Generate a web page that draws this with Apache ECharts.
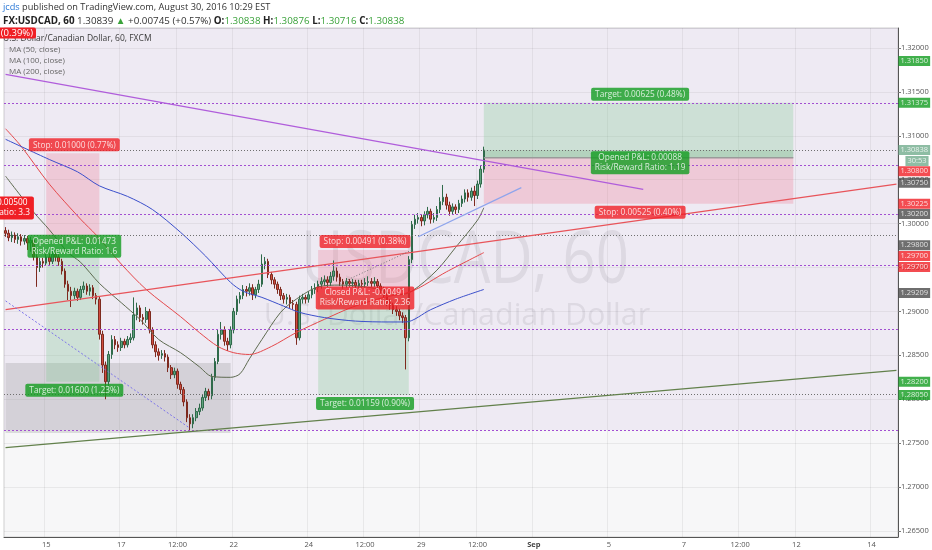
<!DOCTYPE html>
<html><head><meta charset="utf-8">
<script src="https://cdn.jsdelivr.net/npm/echarts@6/dist/echarts.min.js"></script>
<style>html,body{margin:0;padding:0;background:#fff}#c{width:932px;height:550px}</style>
</head><body><div id="c"></div>
<script>
// ---------------- DATA ----------------
// 2-hour candles [open, close, low, high], starting Thu Aug 11 22:00
const candles = [
[1.2992,1.2989,1.2985,1.2996],[1.2989,1.2984,1.2980,1.2993],[1.2984,1.2987,1.2979,1.2991],[1.2987,1.2982,1.2978,1.2990],
[1.2982,1.2985,1.2977,1.2989],[1.2985,1.2980,1.2975,1.2988],[1.2980,1.2983,1.2976,1.2987],[1.2983,1.2978,1.2970,1.2986],
[1.2978,1.2981,1.2968,1.2985],[1.2981,1.2962,1.2958,1.2984],[1.2962,1.2950,1.2928,1.2965],[1.2950,1.2957,1.2945,1.2961],
[1.2957,1.2955,1.2950,1.2961],[1.2955,1.2962,1.2952,1.2967],[1.2962,1.2957,1.2953,1.2966],[1.2957,1.2965,1.2954,1.2969],
[1.2965,1.2962,1.2957,1.2970],[1.2962,1.2957,1.2952,1.2965],[1.2957,1.2946,1.2942,1.2960],[1.2946,1.2931,1.2927,1.2949],
[1.2931,1.2923,1.2913,1.2935],[1.2923,1.2918,1.2905,1.2928],[1.2918,1.2923,1.2914,1.2927],[1.2923,1.2916,1.2912,1.2926],
[1.2916,1.2925,1.2913,1.2929],[1.2925,1.2929,1.2921,1.2934],[1.2929,1.2923,1.2919,1.2932],[1.2923,1.2927,1.2918,1.2931],
[1.2927,1.2918,1.2914,1.2930],[1.2918,1.2914,1.2908,1.2921],[1.2914,1.2874,1.2868,1.2917],[1.2874,1.2839,1.2830,1.2878],
[1.2839,1.2820,1.2800,1.2843],[1.2820,1.2851,1.2815,1.2855],[1.2851,1.2868,1.2846,1.2873],[1.2868,1.2862,1.2857,1.2872],
[1.2862,1.2859,1.2854,1.2866],[1.2859,1.2866,1.2855,1.2870],[1.2866,1.2862,1.2858,1.2869],[1.2862,1.2868,1.2859,1.2872],
[1.2868,1.2870,1.2864,1.2875],[1.2870,1.2896,1.2867,1.2916],[1.2896,1.2904,1.2890,1.2910],[1.2904,1.2893,1.2888,1.2907],
[1.2893,1.2891,1.2885,1.2897],[1.2891,1.2900,1.2887,1.2905],[1.2900,1.2879,1.2875,1.2903],[1.2879,1.2862,1.2858,1.2882],
[1.2862,1.2854,1.2848,1.2866],[1.2854,1.2850,1.2844,1.2858],[1.2850,1.2852,1.2846,1.2856],[1.2852,1.2848,1.2843,1.2856],
[1.2848,1.2836,1.2831,1.2851],[1.2836,1.2828,1.2823,1.2839],[1.2828,1.2832,1.2824,1.2836],[1.2832,1.2817,1.2812,1.2835],
[1.2817,1.2811,1.2806,1.2820],[1.2811,1.2797,1.2792,1.2814],[1.2797,1.2779,1.2774,1.2800],[1.2779,1.2772,1.2765,1.2783],
[1.2772,1.2779,1.2767,1.2783],[1.2779,1.2786,1.2775,1.2790],[1.2786,1.2790,1.2782,1.2795],[1.2790,1.2802,1.2787,1.2806],
[1.2802,1.2809,1.2798,1.2813],[1.2809,1.2804,1.2799,1.2812],[1.2804,1.2825,1.2800,1.2829],[1.2825,1.2843,1.2821,1.2847],
[1.2843,1.2874,1.2840,1.2880],[1.2874,1.2879,1.2868,1.2888],[1.2879,1.2866,1.2861,1.2883],[1.2866,1.2862,1.2855,1.2870],
[1.2862,1.2879,1.2858,1.2883],[1.2879,1.2900,1.2875,1.2904],[1.2900,1.2914,1.2896,1.2918],[1.2914,1.2918,1.2909,1.2922],
[1.2918,1.2925,1.2914,1.2930],[1.2925,1.2923,1.2917,1.2929],[1.2923,1.2927,1.2918,1.2932],[1.2927,1.2919,1.2913,1.2931],
[1.2919,1.2925,1.2915,1.2928],[1.2925,1.2931,1.2921,1.2936],[1.2931,1.2954,1.2928,1.2965],[1.2954,1.2957,1.2948,1.2962],
[1.2957,1.2942,1.2938,1.2960],[1.2942,1.2936,1.2931,1.2945],[1.2936,1.2931,1.2926,1.2939],[1.2931,1.2925,1.2920,1.2934],
[1.2925,1.2918,1.2913,1.2928],[1.2918,1.2914,1.2909,1.2921],[1.2914,1.2916,1.2908,1.2920],[1.2916,1.2909,1.2904,1.2919],
[1.2909,1.2908,1.2902,1.2913],[1.2908,1.2870,1.2862,1.2911],[1.2870,1.2914,1.2867,1.2918],[1.2914,1.2916,1.2909,1.2920],
[1.2916,1.2914,1.2909,1.2919],[1.2914,1.2919,1.2910,1.2923],[1.2919,1.2925,1.2915,1.2929],[1.2925,1.2927,1.2920,1.2932],
[1.2927,1.2931,1.2922,1.2935],[1.2931,1.2934,1.2926,1.2939],[1.2934,1.2936,1.2929,1.2941],[1.2936,1.2933,1.2928,1.2940],
[1.2933,1.2940,1.2929,1.2945],[1.2940,1.2946,1.2935,1.2958],[1.2946,1.2939,1.2934,1.2950],[1.2939,1.2934,1.2929,1.2943],
[1.2934,1.2931,1.2926,1.2937],[1.2931,1.2934,1.2927,1.2938],[1.2934,1.2932,1.2928,1.2937],[1.2932,1.2933,1.2928,1.2937],
[1.2933,1.2929,1.2925,1.2936],[1.2929,1.2932,1.2925,1.2936],[1.2932,1.2931,1.2927,1.2936],[1.2931,1.2933,1.2927,1.2938],
[1.2933,1.2934,1.2929,1.2940],[1.2934,1.2932,1.2928,1.2938],[1.2932,1.2934,1.2928,1.2939],[1.2934,1.2929,1.2925,1.2937],
[1.2929,1.2925,1.2920,1.2932],[1.2925,1.2918,1.2914,1.2928],[1.2918,1.2910,1.2906,1.2921],[1.2910,1.2907,1.2902,1.2914],
[1.2907,1.2902,1.2897,1.2910],[1.2902,1.2900,1.2895,1.2906],[1.2900,1.2895,1.2890,1.2903],[1.2895,1.2893,1.2887,1.2899],
[1.2893,1.2870,1.2834,1.2896],[1.2870,1.2959,1.2866,1.2963],[1.2959,1.2999,1.2955,1.3003],[1.2999,1.3005,1.2994,1.3010],
[1.3005,1.3007,1.3000,1.3012],[1.3007,1.3003,1.2997,1.3010],[1.3003,1.3010,1.2998,1.3014],[1.3010,1.3014,1.3006,1.3019],
[1.3014,1.3005,1.3000,1.3017],[1.3005,1.3007,1.3001,1.3012],[1.3007,1.3016,1.3003,1.3020],[1.3016,1.3025,1.3012,1.3030],
[1.3025,1.3030,1.3021,1.3044],[1.3030,1.3021,1.3016,1.3034],[1.3021,1.3014,1.3009,1.3025],[1.3014,1.3019,1.3010,1.3023],
[1.3019,1.3016,1.3011,1.3022],[1.3016,1.3023,1.3012,1.3027],[1.3023,1.3028,1.3019,1.3032],[1.3028,1.3035,1.3024,1.3039],
[1.3035,1.3030,1.3025,1.3039],[1.3030,1.3037,1.3026,1.3041],[1.3037,1.3032,1.3020,1.3043],[1.3032,1.3045,1.3028,1.3049],
[1.3045,1.3062,1.3041,1.3066],[1.3062,1.30838,1.3058,1.30876]
];
// moving averages: [slot index, value]
const ma50 = [[0,1.3054],[9,1.3013],[14,1.2993],[20,1.2967],[24,1.2956],[30,1.2932],[37,1.2910],[43,1.2891],[49,1.2868],[56,1.2853],[62,1.2837],[66,1.2826],[72,1.2825],[75,1.2829],[78,1.2846],[82,1.2868],[88,1.2899],[93,1.2914],[100,1.2928],[107,1.2930],[117,1.2927],[126,1.2919],[130,1.2923],[138,1.2947],[144,1.2973],[151,1.3004],[153,1.3018]];
const ma100 = [[0,1.3108],[5,1.3088],[14,1.3045],[24,1.3005],[29,1.2987],[37,1.2954],[45,1.2925],[56,1.2894],[62,1.2876],[68,1.2860],[73,1.2853],[78,1.2851],[85,1.2860],[93,1.2876],[102,1.2891],[111,1.2905],[121,1.2916],[130,1.2923],[141,1.2945],[153,1.2967]];
const ma200 = [[0,1.3096],[14,1.3073],[23,1.3059],[30,1.3043],[39,1.3031],[47,1.3016],[56,1.2990],[64,1.2963],[72,1.2933],[76,1.2923],[82,1.2916],[89,1.2906],[94,1.2899],[102,1.2893],[112,1.2889],[123,1.2888],[128,1.2888],[136,1.2902],[144,1.2914],[153,1.2925]];
// drawn trend lines [slot, price]
const trendViolet = [[0,1.3170],[204,1.3039]];
const trendRed = [[0,1.2902],[285,1.3045]];
const trendOlive = [[0,1.2745],[285,1.2833]];
const trendBlue = [[132,1.2985],[165,1.3041]];
const trendDotted = [[0,1.2912],[59,1.2767]];
const tradePath = [[107,1.2932],[130,1.2970]];
// horizontal levels
const levelsPurple = [1.31375,1.30667,1.30109,1.29529,1.28800,1.27650];
const levelsGrey = [1.30838,1.29870,1.28060];
// highlighted zone and range box
const zoneBottom = 1.27650;
const rangeBox = {from:0, to:72, low:1.27616, high:1.28413};
// position tools
const posStart  = [13, 100, 153];
const posEnd    = [30, 129, 252];
const posEntry  = [1.2980, 1.29209, 1.3075];
const posStop   = [1.3080, 1.2970, 1.30225];
const posTarget = [1.2820, 1.2805, 1.31375];
const posCurrent = 1.30838;
const posStopText   = ['Stop: 0.01000 (0.77%)','Stop: 0.00491 (0.38%)','Stop: 0.00525 (0.40%)'];
const posTargetText = ['Target: 0.01600 (1.23%)','Target: 0.01159 (0.90%)','Target: 0.00625 (0.48%)'];
const posPnlText    = ['Opened P&L: 0.01473\nRisk/Reward Ratio: 1.6','Closed P&L: -0.00491\nRisk/Reward Ratio: 2.36','Opened P&L: 0.00088\nRisk/Reward Ratio: 1.19'];
const posPnlWin     = [true, false, true];
// right axis price tags
const tagValues = [1.31850,1.31375,1.30838,1.30838,1.30800,1.30750,1.30225,1.30200,1.29800,1.29700,1.29700,1.29209,1.28200,1.28050];
const tagTexts  = [null,null,null,'30:53',null,null,null,null,null,null,null,null,null,null];
const tagKinds  = ['target','target','price','price','stop','entry','stop','entry','entry','stop','stop','entry','target','target'];
// x tick labels
const tickCats  = ['08-15 00:00','08-17 00:00','08-18 12:00','08-22 00:00','08-24 00:00','08-25 12:00','08-29 00:00','08-30 12:00','09-01 00:00','09-05 00:00','09-07 00:00','09-08 12:00','09-12 00:00','09-14 00:00'];
const tickTexts = ['15','17','12:00','22','24','12:00','29','12:00','Sep','5','7','12:00','12','14'];
const axisStart = Date.UTC(2016,7,11,22);
const axisEnd   = Date.UTC(2016,8,14,16);

// ---------------- BUILD ----------------
const p2 = n => (n<10?'0':'')+n;
const categories = [];
for (let t = axisStart; t <= axisEnd; t += 7200000) {
  const d = new Date(t), wd = d.getUTCDay(), hr = d.getUTCHours();
  const closed = wd === 6 || (wd === 5 && hr >= 18) || (wd === 0 && hr < 18);
  if (!closed) categories.push(p2(d.getUTCMonth()+1)+'-'+p2(d.getUTCDate())+' '+p2(hr)+':00');
}
const lastSlot = categories.length - 1;
const FONT = '"Open Sans", Lato, sans-serif';
const COL = {green:'#129c1f', red:'#f01f25', entry:'#4a4a4a', price:'#72ad8d', target:'#129c1f', stop:'#f01f25'};
const cat = i => categories[i];

const areas = [];
areas.push([{yAxis: zoneBottom, itemStyle:{color:'rgba(150,100,200,0.085)'}}, {yAxis: 1.32227}]);
areas.push([{coord:[cat(rangeBox.from), rangeBox.low], itemStyle:{color:'rgba(140,140,140,0.26)'}}, {coord:[cat(rangeBox.to), rangeBox.high]}]);
for (let k = 0; k < posStart.length; k++) {
  areas.push([{coord:[cat(posStart[k]), posEntry[k]], itemStyle:{color:'rgba(240,110,135,0.26)'}}, {coord:[cat(posEnd[k]), posStop[k]]}]);
  areas.push([{coord:[cat(posStart[k]), posEntry[k]], itemStyle:{color:'rgba(120,200,135,0.27)'}}, {coord:[cat(posEnd[k]), posTarget[k]]}]);
}
areas.push([{coord:[cat(posStart[2]), posEntry[2]], itemStyle:{color:'rgba(90,160,105,0.22)'}}, {coord:[cat(posEnd[2]), posCurrent]}]);

const lbl = (text, bg, pos, extra) => Object.assign({
  show:true, formatter:text, position:pos, distance:2, color:'#fff', fontFamily:FONT, fontSize:8.3,
  lineHeight:10, backgroundColor:bg, padding:[2,4,1,4], borderRadius:2, align:'center'
}, extra||{});
const posLabels = [];
for (let k = 0; k < posStart.length; k++) {
  const mid = (posStart[k] + posEnd[k]) / 2;
  const isLong = posTarget[k] > posEntry[k];
  posLabels.push({value:[mid, posStop[k]], label: lbl(posStopText[k], COL.red, isLong?'bottom':'top')});
  posLabels.push({value:[mid, posTarget[k]], label: lbl(posTargetText[k], COL.green, isLong?'top':'bottom')});
  posLabels.push({value:[mid, posEntry[k]], label: lbl(posPnlText[k], posPnlWin[k]?COL.green:COL.red, 'inside', {offset:[0,5]})});
}
const tagNudge = [0,0,0,11,18,25,0,8,4,6,17,0,0,0]; // label stacking (px)
const tags = tagValues.map((v,i) => ({
  value:[lastSlot, v],
  label:{show:true, position:'right', distance:2, formatter: tagTexts[i] || v.toFixed(5), color:'#fff',
    fontFamily:FONT, fontSize:7.5, lineHeight:9, padding:[1,2,0,2], backgroundColor: COL[tagKinds[i]],
    align:'left', offset:[ (tagTexts[i]? 7:0), tagNudge[i]]}
}));

const lineS = (data, color, width, type, z, smooth) => ({
  type:'line', data, symbol:'none', smooth: smooth||false, z: z||4, silent:true,
  lineStyle:{color, width: width||1, type: type||'solid'}
});
const HF1 = 9.2, HF2 = 9.8;

const option = {
  animation:false,
  grid:{left:4, right:34, top:28, bottom:13, show:true, backgroundColor:'#f7f7f8', borderColor:'#cfcfcf', borderWidth:1},
  xAxis:{type:'category', data:categories, boundaryGap:true,
    axisLine:{show:true, lineStyle:{color:'#555'}}, axisTick:{show:false},
    axisLabel:{interval:(i,v)=>tickCats.indexOf(v)>=0, formatter:v=>{const t=tickTexts[tickCats.indexOf(v)]; return t==='Sep'?'{b|Sep}':t;},
      color:'#555', fontSize:7.5, fontFamily:FONT, margin:4, rich:{b:{fontWeight:'bold', fontSize:7.5, fontFamily:FONT, color:'#444'}}},
    splitLine:{show:true, interval:(i,v)=>tickCats.indexOf(v)>=0, lineStyle:{color:'rgba(0,0,0,0.06)', type:'solid'}}},
  yAxis:{type:'value', position:'right', min:1.26432, max:1.32227, minInterval:0.005, maxInterval:0.005,
    axisLine:{show:true, lineStyle:{color:'#555'}}, axisTick:{show:true, length:3, lineStyle:{color:'#777'}},
    axisLabel:{color:'#555', fontSize:7.5, fontFamily:FONT, margin:3, showMinLabel:false, showMaxLabel:false, formatter:v=>v.toFixed(5)},
    splitLine:{lineStyle:{color:'rgba(0,0,0,0.06)', type:'solid'}}},
  graphic:[
    {type:'text', x:3, y:7, z:10, style:{text:'{u|jcds} published on TradingView.com, August 30, 2016 10:29 EST', fill:'#333', fontSize:HF1, fontFamily:FONT, verticalAlign:'middle',
      rich:{u:{fill:'#2a78d6', fontSize:HF1, fontFamily:FONT}}}},
    {type:'text', x:3, y:21, z:10, style:{text:'{b|FX:USDCAD, 60} 1.30839 {g|▲} +0.00745 (+0.57%) {b|O:}{g|1.30838} {b|H:}{g|1.30876} {b|L:}{g|1.30716} {b|C:}{g|1.30838}', fill:'#333', fontSize:HF2, fontFamily:FONT, verticalAlign:'middle',
      rich:{b:{fontWeight:'bold', fill:'#222', fontSize:HF2, fontFamily:FONT}, g:{fill:'#3aa23a', fontSize:HF2, fontFamily:FONT}}}},
    {type:'text', x:465, y:262, z:1, silent:true, scaleY:1.25, style:{text:'USDCAD, 60', fill:'rgba(90,90,100,0.12)', fontSize:58, fontFamily:FONT, align:'center', verticalAlign:'middle'}},
    {type:'text', x:457, y:316, z:1, silent:true, style:{text:'U.S. Dollar/Canadian Dollar', fill:'rgba(90,90,100,0.12)', fontSize:30.5, fontFamily:FONT, align:'center', verticalAlign:'middle'}},
    {type:'text', x:3, y:39, z:10, style:{text:'U.S. Dollar/Canadian Dollar, 60, FXCM', fill:'#3a3a3a', fontSize:8.5, fontFamily:FONT, verticalAlign:'middle'}},
    {type:'text', x:9, y:50, z:10, style:{text:'MA (50, close)', fill:'#666', fontSize:8, fontFamily:FONT, verticalAlign:'middle'}},
    {type:'text', x:9, y:61, z:10, style:{text:'MA (100, close)', fill:'#666', fontSize:8, fontFamily:FONT, verticalAlign:'middle'}},
    {type:'text', x:9, y:72, z:10, style:{text:'MA (200, close)', fill:'#666', fontSize:8, fontFamily:FONT, verticalAlign:'middle'}},
    {type:'text', x:36, y:33, z:11, style:{text:'Stop: 0.00500 (0.39%)', fill:'#fff', fontSize:9.5, fontFamily:FONT, align:'right', verticalAlign:'middle', backgroundColor:COL.red, padding:[1,3,0,3], borderRadius:2}},
    {type:'text', x:-13, y:208, z:11, style:{text:'Closed P&L: -0.00500\nRisk/Reward Ratio: 3.3', fill:'#fff', fontSize:8.3, fontFamily:FONT, lineHeight:10, align:'center', verticalAlign:'middle', backgroundColor:COL.red, padding:[2,4,1,4], borderRadius:2}}
  ],
  series:[
    {type:'line', name:'zones', data:[], z:1, silent:true, markArea:{silent:true, data:areas}},
    {type:'candlestick', name:'USDCAD', data:candles, z:3, barWidth:'66%',
      itemStyle:{color:'#5fa27d', color0:'#d24c3f', borderColor:'#2f6a4a', borderColor0:'#7e2a1f', borderWidth:1},
      markLine:{silent:true, symbol:'none', precision:5, label:{show:false}, animation:false,
        data: levelsPurple.map(v=>({yAxis:v, lineStyle:{color:'#a24fd1', type:[2,2], width:1}}))
          .concat(levelsGrey.map(v=>({yAxis:v, lineStyle:{color:'#6f6f6f', type:[1,2], width:1}})))}},
    lineS(ma50, '#5e6a50', 1, 'solid', 4, 0.3),
    lineS(ma100, '#e5484b', 1, 'solid', 4, 0.3),
    lineS(ma200, '#3b4fcb', 1, 'solid', 4, 0.3),
    lineS(trendViolet, '#b05ddb', 1.2, 'solid', 5),
    lineS(trendRed, '#e8545a', 1.2, 'solid', 5),
    lineS(trendOlive, '#62804b', 1.2, 'solid', 5),
    lineS(trendBlue, '#8ea4ec', 1.2, 'solid', 5),
    lineS(trendDotted, '#7d74ea', 1, [2,2], 5),
    lineS(tradePath, '#777', 1, [1,2], 5),
    lineS([[posStart[2], posEntry[2]],[posEnd[2], posEntry[2]]], '#9a9a9a', 1.5, 'solid', 5),
    {type:'scatter', name:'posLabels', data:posLabels, symbolSize:0, z:10, silent:true},
    {type:'scatter', name:'tags', data:tags, symbolSize:0, z:11, silent:true, clip:false}
  ]
};
const chart = echarts.init(document.getElementById('c'));
chart.setOption(option);
</script></body></html>
